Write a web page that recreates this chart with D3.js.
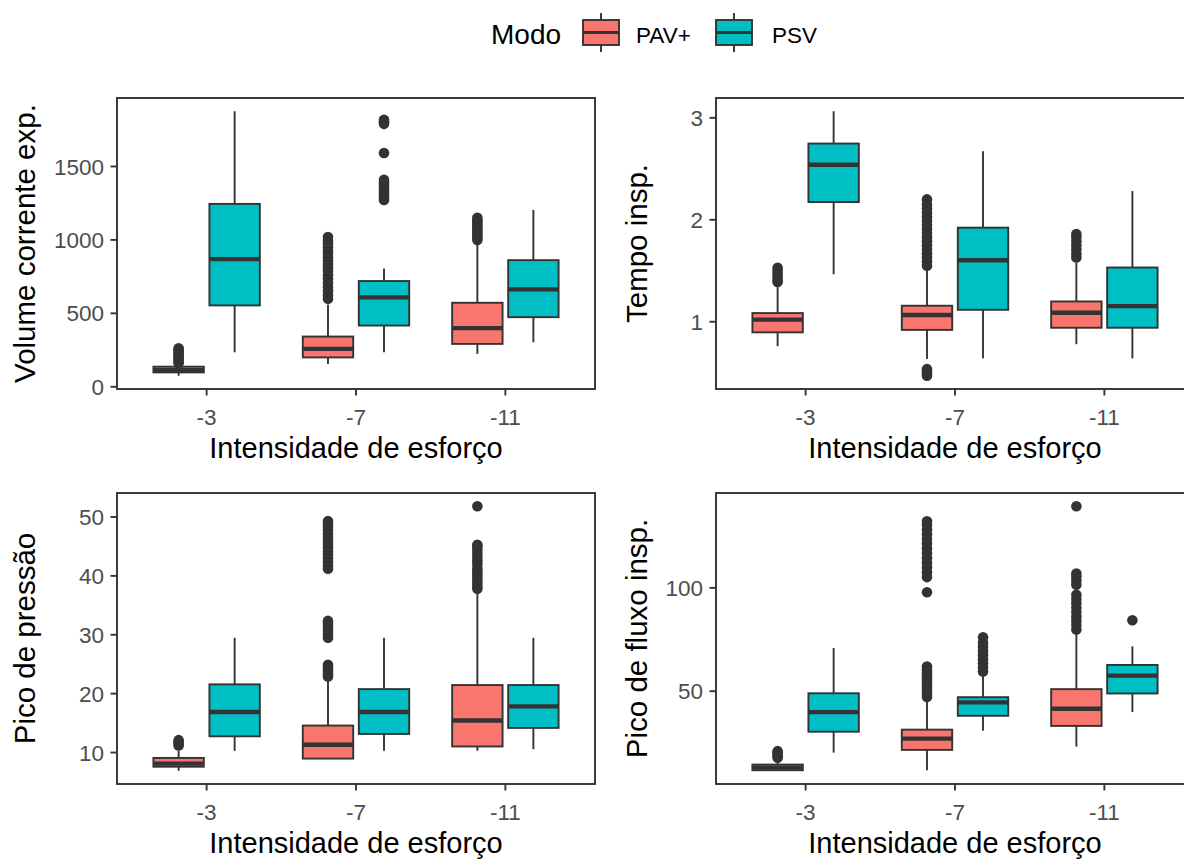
<!DOCTYPE html>
<html>
<head>
<meta charset="utf-8">
<script src="https://cdn.jsdelivr.net/npm/d3@7"></script>
<style>
  body { margin: 0; background: #fff; }
  svg { display: block; }
  text { font-family: "Liberation Sans", Arial, sans-serif; }
</style>
</head>
<body>
<svg id="chart" width="1184" height="860"></svg>
<script>
// ---- Data ----
const categories = ["-3", "-7", "-11"];
const modes = ["PAV+", "PSV"];
const modeColors = ["#F8766D", "#00BFC4"];
const xTitle = "Intensidade de esforço";

// Box summaries: [category, mode, lower whisker, Q1, median, Q3, upper whisker]
const volumeBoxes = [
  ["-3", "PAV+", 75, 98, 114, 137, 152],
  ["-3", "PSV", 235, 554, 869, 1245, 1876],
  ["-7", "PAV+", 155, 200, 258, 342, 560],
  ["-7", "PSV", 235, 417, 609, 720, 805],
  ["-11", "PAV+", 224, 292, 399, 572, 976],
  ["-11", "PSV", 303, 474, 663, 862, 1204]
];
const volumeOutliers = [
  ["-3", "PAV+", [160, 172, 184, 196, 208, 220, 232, 244, 254, 262]],
  ["-7", "PAV+", [600, 625, 650, 680, 705, 735, 760, 790, 810, 835, 860, 880, 905, 925, 950, 975, 995, 1020]],
  ["-7", "PSV", [1272, 1290, 1305, 1320, 1335, 1350, 1365, 1380, 1395, 1410, 1592, 1790, 1798, 1808, 1818]],
  ["-11", "PAV+", [1000, 1015, 1030, 1045, 1060, 1075, 1090, 1105, 1120, 1135, 1150]]
];
const volumeTicks = [0, 500, 1000, 1500];

const tempoBoxes = [
  ["-3", "PAV+", 0.76, 0.896, 1.02, 1.085, 1.34],
  ["-3", "PSV", 1.466, 2.174, 2.54, 2.748, 3.065],
  ["-7", "PAV+", 0.635, 0.92, 1.066, 1.157, 1.5],
  ["-7", "PSV", 0.641, 1.117, 1.603, 1.923, 2.673],
  ["-11", "PAV+", 0.78, 0.941, 1.088, 1.199, 1.58],
  ["-11", "PSV", 0.641, 0.941, 1.153, 1.532, 2.282]
];
const tempoOutliers = [
  ["-3", "PAV+", [1.39, 1.41, 1.44, 1.47, 1.5, 1.53]],
  ["-7", "PAV+", [0.47, 0.49, 0.51, 0.535, 1.55, 1.59, 1.63, 1.67, 1.71, 1.75, 1.79, 1.83, 1.87, 1.91, 1.95, 1.99, 2.03, 2.07, 2.11, 2.15, 2.2]],
  ["-11", "PAV+", [1.63, 1.67, 1.71, 1.75, 1.79, 1.83, 1.86]]
];
const tempoTicks = [1, 2, 3];

const pressaoBoxes = [
  ["-3", "PAV+", 6.9, 7.59, 8.11, 9.08, 10.3],
  ["-3", "PSV", 10.29, 12.75, 16.88, 21.58, 29.48],
  ["-7", "PAV+", 8.9, 8.97, 11.32, 14.58, 22.3],
  ["-7", "PSV", 10.29, 13.15, 16.88, 20.77, 29.48],
  ["-11", "PAV+", 10.29, 11.03, 15.44, 21.46, 36.93],
  ["-11", "PSV", 10.57, 14.18, 17.85, 21.46, 29.48]
];
const pressaoOutliers = [
  ["-3", "PAV+", [11.2, 11.5, 11.8, 12.1]],
  ["-7", "PAV+", [22.9, 23.3, 23.7, 24.1, 24.5, 24.9, 29.5, 30.0, 30.5, 31.0, 31.5, 32.0, 32.35,
                  41.2, 41.8, 42.4, 43.0, 43.6, 44.2, 44.8, 45.4, 46.0, 46.6, 47.2, 47.8, 48.4, 49.0, 49.3]],
  ["-11", "PAV+", [37.8, 38.3, 38.8, 39.3, 39.8, 40.3, 40.8, 41.3, 42.0, 42.6, 43.2, 43.8, 44.4, 45.0, 45.3, 51.83]]
];
const pressaoTicks = [10, 20, 30, 40, 50];

const fluxoBoxes = [
  ["-3", "PAV+", 11.5, 11.76, 13.0, 14.5, 16.5],
  ["-3", "PSV", 20.3, 30.4, 39.9, 49.0, 70.9],
  ["-7", "PAV+", 11.8, 21.6, 27.1, 31.4, 45.6],
  ["-7", "PSV", 30.9, 38.1, 44.6, 47.1, 57.8],
  ["-11", "PAV+", 23.2, 33.2, 41.5, 51.0, 78.3],
  ["-11", "PSV", 39.9, 48.9, 57.5, 62.7, 71.7]
];
const fluxoOutliers = [
  ["-3", "PAV+", [17.8, 18.6, 19.4, 20.2, 21.0]],
  ["-7", "PAV+", [47.2, 48.4, 49.6, 50.8, 52.0, 53.2, 54.4, 55.6, 56.8, 58.0, 59.2, 60.4, 61.9, 97.9,
                  105.2, 107.5, 109.8, 112.1, 114.4, 116.7, 119.0, 121.3, 123.6, 125.9, 128.2, 130.5, 132.2]],
  ["-7", "PSV", [59.5, 61.5, 63.5, 65.5, 67.5, 69.5, 71.5, 73.5, 76.1]],
  ["-11", "PAV+", [79.9, 82.0, 84.1, 86.2, 88.3, 90.4, 92.5, 94.6, 96.7, 101.5, 103.6, 105.5, 106.9, 139.5]],
  ["-11", "PSV", [84.3]]
];
const fluxoTicks = [50, 100];

// ---- Layout ----
const svg = d3.select("#chart");
const ink = "#333333";
const panelW = 478, panelH = 291;
const lineW = 1.9;

const panels = [
  { title: "Volume corrente exp.", boxes: volumeBoxes, outliers: volumeOutliers, ticks: volumeTicks, left: 117, top: 98, titleX: 34.5 },
  { title: "Tempo insp.", boxes: tempoBoxes, outliers: tempoOutliers, ticks: tempoTicks, left: 716, top: 98, titleX: 646.5 },
  { title: "Pico de pressão", boxes: pressaoBoxes, outliers: pressaoOutliers, ticks: pressaoTicks, left: 117, top: 493, titleX: 34.5 },
  { title: "Pico de fluxo insp.", boxes: fluxoBoxes, outliers: fluxoOutliers, ticks: fluxoTicks, left: 716, top: 493, titleX: 646.5 }
];

const color = d3.scaleOrdinal().domain(modes).range(modeColors);

panels.forEach(p => {
  const right = p.left + panelW, bottom = p.top + panelH;

  const x = d3.scalePoint().domain(categories).range([p.left, right]).padding(0.6);
  const step = x.step();
  const dodge = d3.scaleBand().domain(modes).range([-0.375 * step, 0.375 * step]).paddingInner(0.1).paddingOuter(0.05);
  const boxW = dodge.bandwidth();

  // y range spans all whiskers and outliers with 5% expansion on each side
  const allVals = [];
  p.boxes.forEach(b => allVals.push(b[2], b[6]));
  p.outliers.forEach(o => o[2].forEach(v => allVals.push(v)));
  const [lo, hi] = d3.extent(allVals);
  const pad = (hi - lo) * 0.05;
  const y = d3.scaleLinear().domain([lo - pad, hi + pad]).range([bottom, p.top]);

  const g = svg.append("g");
  const clipId = "clip" + p.left + "_" + p.top;
  svg.append("clipPath").attr("id", clipId)
    .append("rect").attr("x", p.left).attr("y", p.top).attr("width", panelW).attr("height", panelH);
  const plot = g.append("g").attr("clip-path", `url(#${clipId})`);

  const cx = b => x(b[0]) + dodge(b[1]) + boxW / 2;

  // whiskers
  plot.selectAll("line.whisker-hi").data(p.boxes).join("line")
    .attr("x1", cx).attr("x2", cx)
    .attr("y1", b => y(b[6])).attr("y2", b => y(b[5]))
    .attr("stroke", ink).attr("stroke-width", lineW);
  plot.selectAll("line.whisker-lo").data(p.boxes).join("line")
    .attr("x1", cx).attr("x2", cx)
    .attr("y1", b => y(b[3])).attr("y2", b => y(b[2]))
    .attr("stroke", ink).attr("stroke-width", lineW);

  // boxes
  plot.selectAll("rect.box").data(p.boxes).join("rect")
    .attr("x", b => x(b[0]) + dodge(b[1]))
    .attr("width", boxW)
    .attr("y", b => y(b[5]))
    .attr("height", b => y(b[3]) - y(b[5]))
    .attr("fill", b => color(b[1]))
    .attr("stroke", ink).attr("stroke-width", lineW);

  // medians
  plot.selectAll("line.median").data(p.boxes).join("line")
    .attr("x1", b => x(b[0]) + dodge(b[1]))
    .attr("x2", b => x(b[0]) + dodge(b[1]) + boxW)
    .attr("y1", b => y(b[4])).attr("y2", b => y(b[4]))
    .attr("stroke", ink).attr("stroke-width", 4.3);

  // outliers
  const pts = [];
  p.outliers.forEach(o => o[2].forEach(v => pts.push({ cat: o[0], mode: o[1], v })));
  plot.selectAll("circle").data(pts).join("circle")
    .attr("cx", d => x(d.cat) + dodge(d.mode) + boxW / 2)
    .attr("cy", d => y(d.v))
    .attr("r", 5.3)
    .attr("fill", ink);

  // panel border
  g.append("rect").attr("x", p.left).attr("y", p.top).attr("width", panelW).attr("height", panelH)
    .attr("fill", "none").attr("stroke", ink).attr("stroke-width", 1.9);

  // y axis ticks and labels
  g.selectAll("line.ytick").data(p.ticks).join("line")
    .attr("x1", p.left - 6.5).attr("x2", p.left)
    .attr("y1", d => y(d)).attr("y2", d => y(d))
    .attr("stroke", ink).attr("stroke-width", lineW);
  g.selectAll("text.ylab").data(p.ticks).join("text")
    .attr("x", p.left - 13).attr("y", d => y(d))
    .attr("dy", "0.36em")
    .attr("text-anchor", "end")
    .attr("font-size", 22.5).attr("fill", "#4D4D4D")
    .text(d => d);

  // x axis ticks and labels
  g.selectAll("line.xtick").data(categories).join("line")
    .attr("x1", d => x(d)).attr("x2", d => x(d))
    .attr("y1", bottom).attr("y2", bottom + 6.5)
    .attr("stroke", ink).attr("stroke-width", lineW);
  g.selectAll("text.xlab").data(categories).join("text")
    .attr("x", d => x(d)).attr("y", bottom + 36)
    .attr("text-anchor", "middle")
    .attr("font-size", 22.5).attr("fill", "#4D4D4D")
    .text(d => d);

  // axis titles
  g.append("text")
    .attr("x", p.left + panelW / 2)
    .attr("y", bottom + 69)
    .attr("text-anchor", "middle")
    .attr("font-size", 29).attr("fill", "#000")
    .text(xTitle);
  g.append("text")
    .attr("transform", `translate(${p.titleX},${p.top + panelH / 2}) rotate(-90)`)
    .attr("text-anchor", "middle")
    .attr("font-size", 29.5).attr("fill", "#000")
    .text(p.title);
});

// ---- Legend ----
const legend = svg.append("g");
legend.append("text").attr("x", 491).attr("y", 44)
  .attr("font-size", 28).attr("fill", "#000").text("Modo");

const keyX = [583, 716];
const labelX = [636, 772];
modes.forEach((m, i) => {
  const kx = keyX[i], kw = 36, ky = 20, kh = 25;
  const mid = kx + kw / 2;
  legend.append("line").attr("x1", mid).attr("x2", mid).attr("y1", 13).attr("y2", ky)
    .attr("stroke", ink).attr("stroke-width", lineW);
  legend.append("line").attr("x1", mid).attr("x2", mid).attr("y1", ky + kh).attr("y2", 52)
    .attr("stroke", ink).attr("stroke-width", lineW);
  legend.append("rect").attr("x", kx).attr("y", ky).attr("width", kw).attr("height", kh)
    .attr("fill", color(m)).attr("stroke", ink).attr("stroke-width", lineW);
  legend.append("line").attr("x1", kx).attr("x2", kx + kw).attr("y1", ky + kh / 2).attr("y2", ky + kh / 2)
    .attr("stroke", ink).attr("stroke-width", 3);
  legend.append("text").attr("x", labelX[i]).attr("y", 43)
    .attr("font-size", 22.5).attr("fill", "#000").text(m);
});
</script>
</body>
</html>
